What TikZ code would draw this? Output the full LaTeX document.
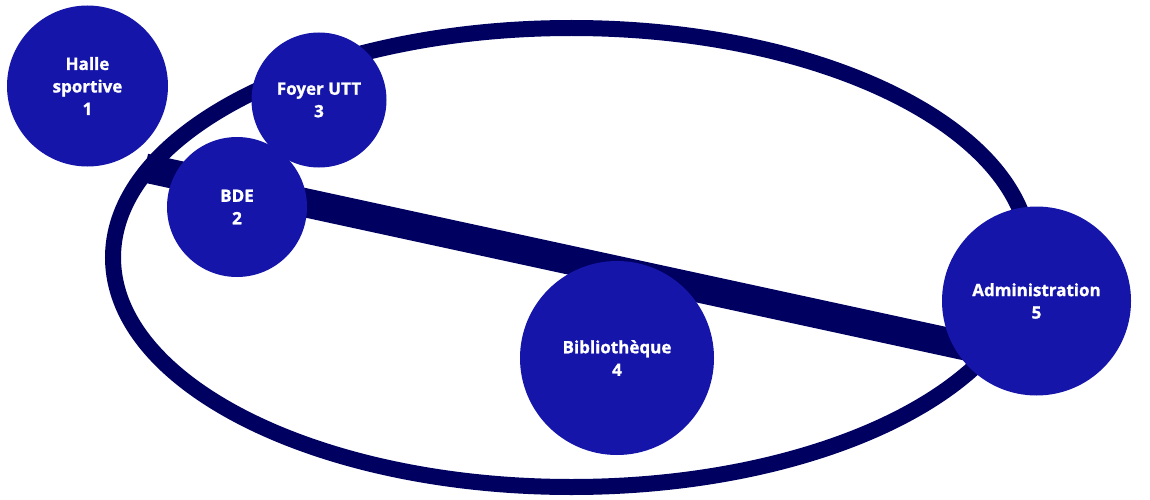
\documentclass[tikz,border=0pt]{standalone}
\usepackage{fontspec}
\setmainfont{Open Sans}[BoldFeatures={FakeBold=1.2}]
\usepackage{tikz}

\definecolor{ringnavy}{RGB}{0,0,96}
\definecolor{placeblue}{RGB}{21,21,170}

\begin{document}
\begin{tikzpicture}[x=1pt, y=-1pt,
  place/.style={circle, fill=placeblue, text=white, align=center, inner sep=0pt,
    font=\fontsize{17}{22.5}\selectfont\bfseries}]
\useasboundingbox (0,0) rectangle (1150,500);
\def\ringwidth{16pt}
\def\axiswidth{29pt}

% CAMPUS RING
\draw[ringnavy, line width=\ringwidth] (571.5,257.5) ellipse [x radius=458.5, y radius=229.5];

% MAIN AXIS
\coordinate (axisstart) at (145,168);
\coordinate (axisend) at (975,348);
\draw[ringnavy, line width=\axiswidth] (axisstart) -- (axisend);

% PLACES
\node[place, minimum size=161pt] (halle) at (87.5,86) {Halle\\sportive\\1};
\node[place, minimum size=135pt] (foyer) at (319,100) {Foyer UTT\\3};
\node[place, minimum size=140pt] (bde) at (237,207) {BDE\\2};
\node[place, minimum size=194pt] (biblio) at (617,358) {Bibliothèque\\4};
\node[place, minimum size=189pt] (admin) at (1036.5,301) {Administration\\5};
\end{tikzpicture}
\end{document}
